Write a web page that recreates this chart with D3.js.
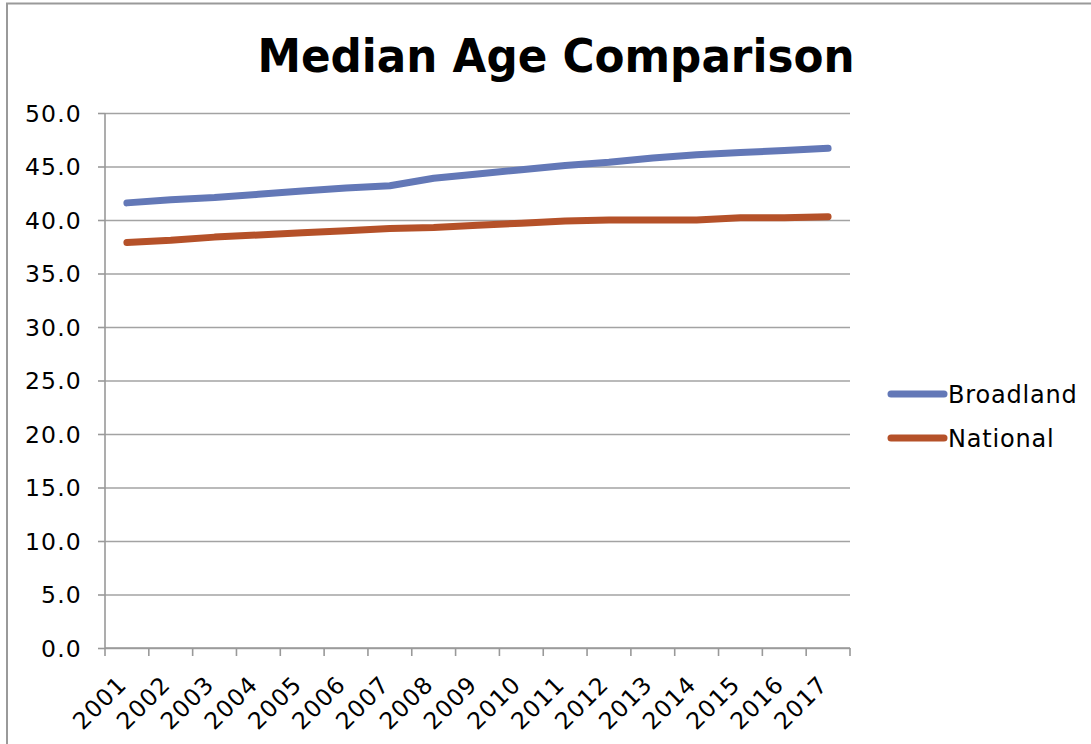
<!DOCTYPE html>
<html>
<head>
<meta charset="utf-8">
<script src="https://cdn.jsdelivr.net/npm/d3@7"></script>
<style>
  html, body { margin: 0; padding: 0; background: #fff; }
  svg { display: block; }
  text { font-family: "DejaVu Sans", Verdana, sans-serif; fill: #000; }
</style>
</head>
<body>
<svg id="chart" width="1091" height="744"></svg>
<script>
const years = ["2001","2002","2003","2004","2005","2006","2007","2008","2009","2010","2011","2012","2013","2014","2015","2016","2017"];
const broadland = [41.6, 41.9, 42.1, 42.4, 42.7, 43.0, 43.2, 43.9, 44.3, 44.7, 45.1, 45.4, 45.8, 46.1, 46.3, 46.5, 46.7];
const national  = [37.9, 38.1, 38.4, 38.6, 38.8, 39.0, 39.2, 39.3, 39.5, 39.7, 39.9, 40.0, 40.0, 40.0, 40.2, 40.2, 40.3];
const yTicks = [0, 5, 10, 15, 20, 25, 30, 35, 40, 45, 50];
const seriesNames = ["Broadland", "National"];
const seriesColors = ["#6378b7", "#b55129"];
const titleText = "Median Age Comparison";

const svg = d3.select("#chart");
const plot = { left: 105, right: 850, top: 113, bottom: 648 };

// outer frame (left and top edges visible)
svg.append("path")
  .attr("d", "M7,744 L7,3.5 L1091,3.5")
  .attr("fill", "none").attr("stroke", "#9a9a9a").attr("stroke-width", 2);

const x = d3.scaleBand().domain(years).range([plot.left, plot.right]).paddingInner(0).paddingOuter(0);
const y = d3.scaleLinear().domain([0, 50]).range([plot.bottom, plot.top]);

// gridlines
const grid = svg.append("g").attr("transform", `translate(${plot.left},0)`)
  .call(d3.axisLeft(y).tickValues(yTicks).tickSize(-(plot.right - plot.left)).tickFormat(""));
grid.select(".domain").remove();
grid.selectAll("line").attr("stroke", "#a3a3a3").attr("stroke-width", 1.6);

// y axis
const yAxis = svg.append("g").attr("transform", `translate(${plot.left},0)`)
  .call(d3.axisLeft(y).tickValues(yTicks).tickSize(7).tickPadding(16).tickFormat(d3.format(".1f")));
yAxis.select(".domain").attr("stroke", "#999").attr("stroke-width", 1.6).attr("d", `M0,${plot.top}V${plot.bottom}`);
yAxis.selectAll("line").attr("stroke", "#999").attr("stroke-width", 1.6);
yAxis.selectAll("text").attr("font-size", 23.5).attr("letter-spacing", 1.2).attr("dy", "0.36em")
  .style("font-family", '"DejaVu Sans", sans-serif').attr("fill", "#000");

// x axis with ticks at band boundaries
const xAxisG = svg.append("g").attr("transform", `translate(0,${plot.bottom})`);
xAxisG.append("line").attr("x1", plot.left).attr("x2", plot.right).attr("y1", 0).attr("y2", 0)
  .attr("stroke", "#999").attr("stroke-width", 1.6);
const boundaries = years.map(d => x(d)).concat([x(years[years.length - 1]) + x.bandwidth()]);
xAxisG.selectAll("line.tk").data(boundaries).join("line").attr("class", "tk")
  .attr("x1", d => d).attr("x2", d => d).attr("y1", 0).attr("y2", 8)
  .attr("stroke", "#999").attr("stroke-width", 1.6);
xAxisG.selectAll("text.xl").data(years).join("text").attr("class", "xl")
  .attr("transform", d => `translate(${x(d) + x.bandwidth() / 2 + 1},${38}) rotate(-45)`)
  .attr("text-anchor", "end").attr("font-size", 23.5).attr("letter-spacing", 1)
  .text(d => d);

// lines
const line = d3.line().x((d, i) => x(years[i]) + x.bandwidth() / 2).y(d => y(d));
[broadland, national].forEach((s, k) => {
  svg.append("path").datum(s).attr("d", line)
    .attr("fill", "none").attr("stroke", seriesColors[k]).attr("stroke-width", 7)
    .attr("stroke-linecap", "round").attr("stroke-linejoin", "round");
});

// title
svg.append("text").attr("x", 556).attr("y", 72).attr("text-anchor", "middle")
  .attr("font-size", 47).attr("font-weight", "bold")
  .attr("textLength", 597).attr("lengthAdjust", "spacingAndGlyphs")
  .text(titleText);

// legend
const legend = svg.append("g");
seriesNames.forEach((n, k) => {
  const ly = 394 + k * 44;
  legend.append("line").attr("x1", 891).attr("x2", 944).attr("y1", ly).attr("y2", ly)
    .attr("stroke", seriesColors[k]).attr("stroke-width", 7).attr("stroke-linecap", "round");
  legend.append("text").attr("x", 948).attr("y", ly).attr("dy", "0.36em")
    .attr("font-size", 24).attr("letter-spacing", 0.8).text(n);
});
</script>
</body>
</html>
